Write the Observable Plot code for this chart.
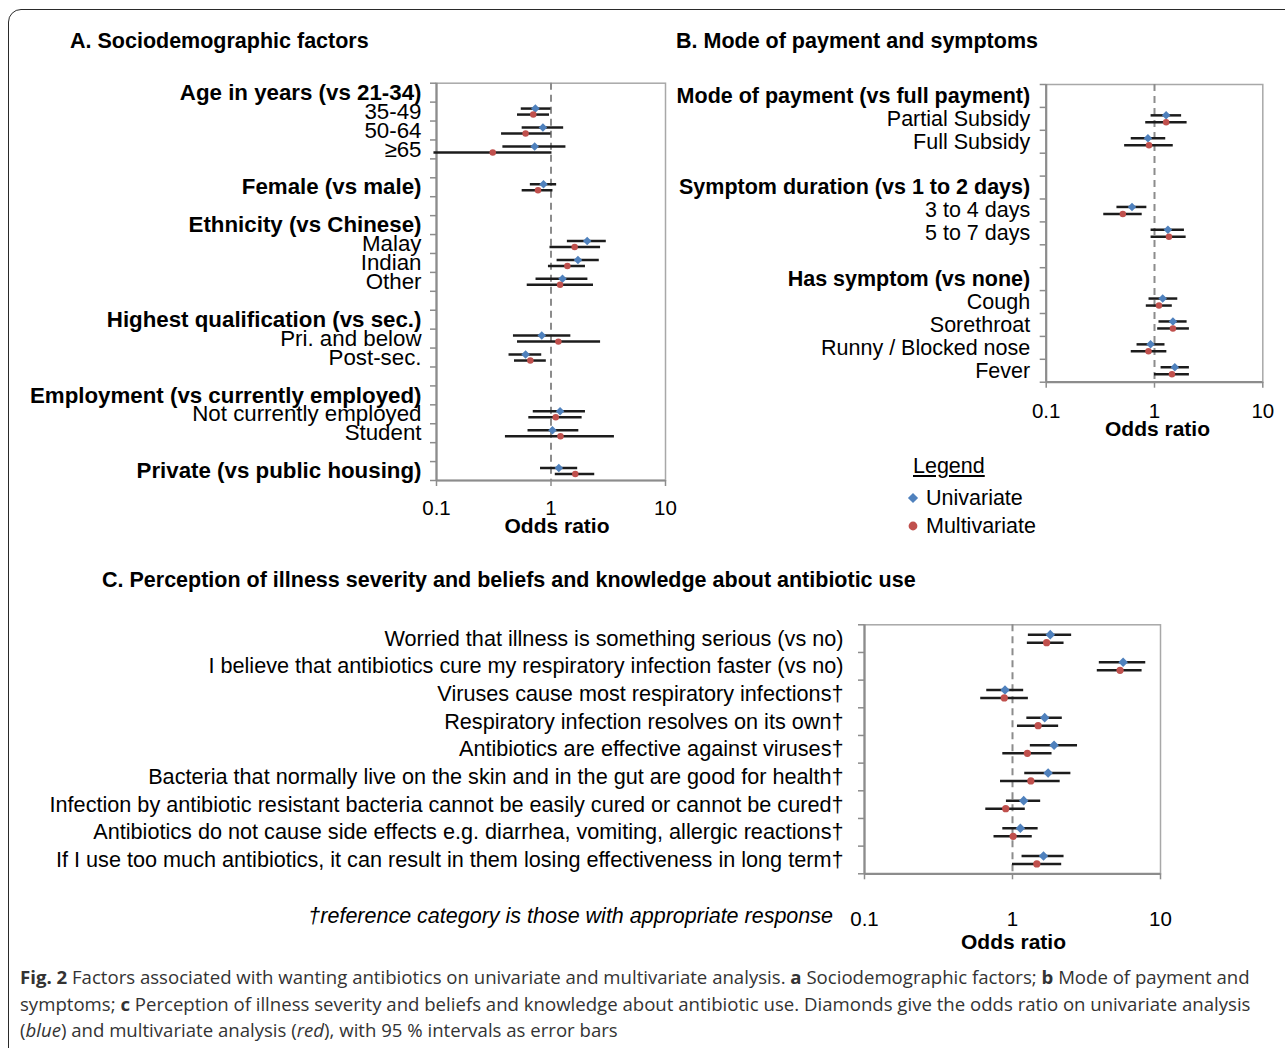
<!DOCTYPE html>
<html>
<head>
<meta charset="utf-8">
<script src="https://cdn.jsdelivr.net/npm/d3@7"></script>
<script src="https://cdn.jsdelivr.net/npm/@observablehq/plot@0.6"></script>
<style>
  html, body { margin: 0; padding: 0; background: #fff; }
  #fig { position: relative; width: 1285px; height: 1048px; overflow: hidden; background: #fff;
         font-family: "Liberation Sans", Arial, Helvetica, sans-serif; color: #000; }
  #border { position: absolute; left: 8px; top: 9px; width: 1320px; height: 1100px;
            border: 1.6px solid #2a2a2a; border-radius: 13px; box-sizing: border-box; }
  .abs { position: absolute; white-space: nowrap; }
  .title { font-weight: bold; font-size: 21.5px; line-height: 22px; }
  .leg { font-size: 21.5px; line-height: 22px; }
  #caption { position: absolute; left: 20px; top: 964px; font-family: "Open Sans", "Noto Sans", sans-serif;
             font-size: 18.6px; line-height: 26.5px; color: #333; white-space: nowrap; }
  #caption i { font-style: italic; }
</style>
</head>
<body>
<div id="fig">
  <div id="border"></div>
  <div class="abs title" style="left:70px; top:30px;">A. Sociodemographic factors</div>
  <div class="abs title" style="left:676px; top:30px;">B. Mode of payment and symptoms</div>
  <div class="abs title" style="left:102px; top:569px;">C. Perception of illness severity and beliefs and knowledge about antibiotic use</div>
  <div id="pA" class="abs" style="left:0px; top:0px;"></div>
  <div id="pB" class="abs" style="left:640px; top:0px;"></div>
  <div id="pC" class="abs" style="left:0px; top:600px;"></div>
  <div id="legend"></div>
  <div class="abs leg" style="right:452px; top:905px; font-style:italic; text-align:right;">†reference category is those with appropriate response</div>
  <div id="caption">
    <b>Fig. 2</b> Factors associated with wanting antibiotics on univariate and multivariate analysis. <b>a</b> Sociodemographic factors; <b>b</b> Mode of payment and<br>
    symptoms; <b>c</b> Perception of illness severity and beliefs and knowledge about antibiotic use. Diamonds give the odds ratio on univariate analysis<br>
    (<i>blue</i>) and multivariate analysis (<i>red</i>), with 95 % intervals as error bars
  </div>
</div>
<script>
// ---------- data ----------
const xDomain = [0.1, 10];
const xTicks = [0.1, 1, 10];
const BLUE = "#4f81bd";
const RED = "#c0504d";

// Panel A: row labels (blank strings are empty category slots)
const labelsA = [
  "Age in years (vs 21-34)", "35-49", "50-64", "≥65", "",
  "Female (vs male)", "",
  "Ethnicity (vs Chinese)", "Malay", "Indian", "Other", "",
  "Highest qualification (vs sec.)", "Pri. and below", "Post-sec.", "",
  "Employment (vs currently employed)", "Not currently employed", "Student", "",
  "Private (vs public housing)"
];
const boldA = ["Age in years (vs 21-34)", "Female (vs male)", "Ethnicity (vs Chinese)",
  "Highest qualification (vs sec.)", "Employment (vs currently employed)", "Private (vs public housing)"];
// [category, odds ratio, lower 95%, upper 95%]
const uniA = [
  ["35-49", 0.73, 0.55, 1.00],
  ["50-64", 0.85, 0.56, 1.29],
  ["≥65", 0.72, 0.38, 1.35],
  ["Female (vs male)", 0.86, 0.66, 1.12],
  ["Malay", 2.07, 1.39, 3.04],
  ["Indian", 1.72, 1.13, 2.64],
  ["Other", 1.26, 0.74, 2.10],
  ["Pri. and below", 0.83, 0.47, 1.49],
  ["Post-sec.", 0.60, 0.43, 0.83],
  ["Not currently employed", 1.20, 0.70, 2.00],
  ["Student", 1.03, 0.63, 1.75],
  ["Private (vs public housing)", 1.17, 0.81, 1.71]
];
const multiA = [
  ["35-49", 0.70, 0.51, 0.97],
  ["50-64", 0.60, 0.37, 1.00],
  ["≥65", 0.31, 0.095, 1.02],
  ["Female (vs male)", 0.77, 0.56, 1.04],
  ["Malay", 1.61, 0.98, 2.71],
  ["Indian", 1.39, 0.95, 2.00],
  ["Other", 1.20, 0.62, 2.35],
  ["Pri. and below", 1.16, 0.51, 2.71],
  ["Post-sec.", 0.66, 0.48, 0.91],
  ["Not currently employed", 1.10, 0.64, 1.87],
  ["Student", 1.21, 0.40, 3.58],
  ["Private (vs public housing)", 1.63, 1.09, 2.41]
];

// Panel B
const labelsB = [
  "Mode of payment (vs full payment)", "Partial Subsidy", "Full Subsidy", "",
  "Symptom duration (vs 1 to 2 days)", "3 to 4 days", "5 to 7 days", "",
  "Has symptom (vs none)", "Cough", "Sorethroat", "Runny / Blocked nose", "Fever"
];
const boldB = ["Mode of payment (vs full payment)", "Symptom duration (vs 1 to 2 days)", "Has symptom (vs none)"];
const uniB = [
  ["Partial Subsidy", 1.28, 0.93, 1.78],
  ["Full Subsidy", 0.87, 0.61, 1.27],
  ["3 to 4 days", 0.62, 0.45, 0.85],
  ["5 to 7 days", 1.33, 0.93, 1.89],
  ["Cough", 1.19, 0.89, 1.64],
  ["Sorethroat", 1.48, 1.10, 2.00],
  ["Runny / Blocked nose", 0.92, 0.69, 1.25],
  ["Fever", 1.54, 1.15, 2.10]
];
const multiB = [
  ["Partial Subsidy", 1.28, 0.83, 2.00],
  ["Full Subsidy", 0.89, 0.53, 1.49],
  ["3 to 4 days", 0.51, 0.34, 0.77],
  ["5 to 7 days", 1.36, 0.93, 1.96],
  ["Cough", 1.10, 0.84, 1.46],
  ["Sorethroat", 1.48, 1.07, 2.10],
  ["Runny / Blocked nose", 0.88, 0.61, 1.30],
  ["Fever", 1.45, 1.00, 2.10]
];

// Panel C
const labelsC = [
  "Worried that illness is something serious (vs no)",
  "I believe that antibiotics cure my respiratory infection faster (vs no)",
  "Viruses cause most respiratory infections†",
  "Respiratory infection resolves on its own†",
  "Antibiotics are effective against viruses†",
  "Bacteria that normally live on the skin and in the gut are good for health†",
  "Infection by antibiotic resistant bacteria cannot be easily cured or cannot be cured†",
  "Antibiotics do not cause side effects e.g. diarrhea, vomiting, allergic reactions†",
  "If I use too much antibiotics, it can result in them losing effectiveness in long term†"
];
const boldC = [];
const uniC = [
  [labelsC[0], 1.80, 1.28, 2.51],
  [labelsC[1], 5.59, 3.86, 7.95],
  [labelsC[2], 0.89, 0.67, 1.19],
  [labelsC[3], 1.65, 1.25, 2.17],
  [labelsC[4], 1.91, 1.32, 2.75],
  [labelsC[5], 1.74, 1.21, 2.48],
  [labelsC[6], 1.19, 0.91, 1.55],
  [labelsC[7], 1.13, 0.86, 1.49],
  [labelsC[8], 1.62, 1.16, 2.23]
];
const multiC = [
  [labelsC[0], 1.70, 1.26, 2.23],
  [labelsC[1], 5.33, 3.74, 7.51],
  [labelsC[2], 0.88, 0.61, 1.28],
  [labelsC[3], 1.49, 1.08, 2.05],
  [labelsC[4], 1.26, 0.86, 1.85],
  [labelsC[5], 1.33, 0.83, 2.10],
  [labelsC[6], 0.90, 0.66, 1.22],
  [labelsC[7], 1.01, 0.75, 1.36],
  [labelsC[8], 1.46, 1.00, 2.15]
];

// ---------- drawing ----------
const FONT = '"Liberation Sans", Arial, Helvetica, sans-serif';
const AXIS = "#8c8c8c";

function forest(o) {
  const n = o.labels.length;
  const idx = new Map(o.labels.map((l, i) => [l, i]).filter(([l]) => l));
  const rows = arr => arr.map(([label, or, lo, hi]) => ({label, or, lo, hi, y: idx.get(label) + 0.5}));
  const U = rows(o.uni), M = rows(o.multi);
  const bset = new Set(o.bold);
  const lab = o.labels.map((t, i) => ({t, y: i + 0.5})).filter(d => d.t);
  return Plot.plot({
    width: o.width, height: o.height,
    marginLeft: o.margin[3], marginRight: o.margin[1], marginTop: o.margin[0], marginBottom: o.margin[2],
    x: {type: "log", domain: xDomain},
    y: {domain: [0, n], reverse: true},
    style: {fontFamily: FONT, fontSize: "21px", background: "transparent", color: "#000", overflow: "visible"},
    marks: [
      Plot.frame({stroke: "#a8a8a8", strokeWidth: 1.5}),
      Plot.ruleX([1], {stroke: AXIS, strokeWidth: 2, strokeDasharray: "7,5"}),
      Plot.ruleX([xDomain[0]], {stroke: AXIS, strokeWidth: 2.2}),
      Plot.ruleY([n], {stroke: AXIS, strokeWidth: 2.2}),
      Plot.axisY(d3.range(n + 1), {tickSize: 6, tickFormat: () => "", stroke: AXIS, strokeWidth: 1.5, label: null}),
      Plot.axisX(xTicks, {tickSize: 6, tickPadding: o.tickPad, tickFormat: d => String(d), stroke: AXIS, strokeWidth: 1.5, fill: "#000", fontSize: 20.5, label: null}),
      Plot.text(lab.filter(d => !bset.has(d.t)), {y: "y", text: "t", frameAnchor: "left", textAnchor: "end", dx: o.labelDx, fontSize: o.fontSize, fill: "#000"}),
      Plot.text(lab.filter(d => bset.has(d.t)), {y: "y", text: "t", frameAnchor: "left", textAnchor: "end", dx: o.labelDx, fontSize: o.fontSize, fontWeight: "bold", fill: "#000"}),
      Plot.text(["Odds ratio"], {text: d => d, frameAnchor: "bottom", dy: o.titleDy, dx: o.titleDx, fontSize: 21, fontWeight: "bold", fill: "#000"}),
      Plot.ruleY(U, {y: "y", x1: "lo", x2: "hi", dy: -o.off, stroke: "#1c1c1c", strokeWidth: 2.5}),
      Plot.ruleY(M, {y: "y", x1: "lo", x2: "hi", dy: o.off, stroke: "#1c1c1c", strokeWidth: 2.5}),
      Plot.dot(U, {x: "or", y: "y", dy: -o.off, symbol: "square", rotate: 45, r: o.r, fill: BLUE}),
      Plot.dot(M, {x: "or", y: "y", dy: o.off, symbol: "circle", r: o.r * 0.95, fill: RED})
    ]
  });
}

document.getElementById("pA").append(forest({
  labels: labelsA, bold: boldA, uni: uniA, multi: multiA,
  width: 700, height: 545, margin: [82.7, 35, 65, 436],
  fontSize: 22.3, tickPad: 14, labelDx: -15, titleDy: 52, titleDx: 6, off: 3, r: 3.4
}));
document.getElementById("pB").append(forest({
  labels: labelsB, bold: boldB, uni: uniB, multi: multiB,
  width: 645, height: 445, margin: [84, 22.7, 63.3, 405.7],
  fontSize: 21.5, tickPad: 15.5, labelDx: -16, titleDy: 54, titleDx: 3, off: 3.5, r: 3.4
}));
document.getElementById("pC").append(forest({
  labels: labelsC, bold: boldC, uni: uniC, multi: multiC,
  width: 1285, height: 360, margin: [24.3, 125, 86.7, 864],
  fontSize: 21.65, tickPad: 32, labelDx: -21, titleDy: 75, titleDx: 1, off: 4, r: 3.8
}));

// legend
const legendItems = [
  {label: "Univariate", color: BLUE, shape: "diamond"},
  {label: "Multivariate", color: RED, shape: "circle"}
];
const lg = document.getElementById("legend");
lg.innerHTML = `<div class="abs leg" style="left:913px; top:455px; text-decoration:underline;">Legend</div>` +
  legendItems.map((d, i) => {
    const top = 487 + i * 28;
    const shape = d.shape === "circle"
      ? `<circle cx="6" cy="6" r="4.4" fill="${d.color}"/>`
      : `<rect x="2.4" y="2.4" width="7.2" height="7.2" fill="${d.color}" transform="rotate(45 6 6)"/>`;
    return `<svg class="abs" style="left:907px; top:${top + 5}px;" width="12" height="12">${shape}</svg>` +
      `<div class="abs leg" style="left:926px; top:${top}px;">${d.label}</div>`;
  }).join("");
</script>
</body>
</html>
